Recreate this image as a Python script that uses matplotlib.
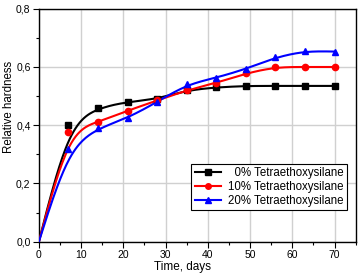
import numpy as np
import matplotlib.pyplot as plt
from matplotlib.ticker import MultipleLocator, FuncFormatter
from matplotlib.lines import Line2D

plt.rcParams['font.family'] = ['Liberation Sans', 'DejaVu Sans']

# measured data (origin point is drawn only as part of the curve)
days = [0, 7, 14, 21, 28, 35, 42, 49, 56, 63, 70]
teos_0 = [0.0, 0.40, 0.46, 0.48, 0.49, 0.52, 0.53, 0.535, 0.535, 0.535, 0.535]
teos_10 = [0.0, 0.378, 0.411, 0.45, 0.485, 0.52, 0.545, 0.578, 0.60, 0.60, 0.60]
teos_20 = [0.0, 0.32, 0.39, 0.424, 0.48, 0.54, 0.563, 0.593, 0.633, 0.655, 0.653]
labels = ['  0% Tetraethoxysilane', '10% Tetraethoxysilane', '20% Tetraethoxysilane']
colors = ['black', 'red', 'blue']
markers = ['s', 'o', '^']


def bspline(xs, ys, n=30):
    # uniform cubic B-spline, data points as control points,
    # reflected phantom points so the curve starts/ends on the end points
    P = np.column_stack([xs, ys]).astype(float)
    P = np.vstack([2 * P[0] - P[1], P, 2 * P[-1] - P[-2]])
    t = np.linspace(0, 1, n)
    b0 = (1 - t) ** 3 / 6
    b1 = (3 * t ** 3 - 6 * t ** 2 + 4) / 6
    b2 = (-3 * t ** 3 + 3 * t ** 2 + 3 * t + 1) / 6
    b3 = t ** 3 / 6
    segs = []
    for i in range(len(P) - 3):
        seg = (np.outer(b0, P[i]) + np.outer(b1, P[i + 1])
               + np.outer(b2, P[i + 2]) + np.outer(b3, P[i + 3]))
        segs.append(seg)
    out = np.vstack(segs)
    return out[:, 0], out[:, 1]


fig = plt.figure(figsize=(3.6, 2.74), dpi=100)
ax = fig.add_axes([0.108, 0.118, 0.880, 0.850])

handles = []
for ys, c, mk, lab in zip([teos_0, teos_10, teos_20], colors, markers, labels):
    cx, cy = bspline(days, ys)
    ax.plot(cx, cy, color=c, lw=1.5, zorder=3)
    ax.plot(days[1:], ys[1:], ls='none', marker=mk, color=c, ms=4.5, zorder=4)
    handles.append(Line2D([], [], color=c, lw=1.5, marker=mk, ms=4, label=lab))

ax.set_xlim(0, 75)
ax.set_ylim(0, 0.8)
ax.xaxis.set_major_locator(MultipleLocator(10))
ax.xaxis.set_minor_locator(MultipleLocator(5))
ax.yaxis.set_major_locator(MultipleLocator(0.2))
ax.yaxis.set_minor_locator(MultipleLocator(0.1))
ax.yaxis.set_major_formatter(FuncFormatter(lambda v, p: f'{v:.1f}'.replace('.', ',')))
ax.grid(True, which='major', color='#d0d0d0', lw=1.0, zorder=0)
ax.tick_params(which='both', direction='out', labelsize=7.5, width=0.8, pad=2)
ax.tick_params(which='major', length=4)
ax.tick_params(which='minor', length=2.5)
for s in ax.spines.values():
    s.set_linewidth(1.0)

ax.set_xlabel('Time, days', fontsize=8.5, va='top')
ax.set_ylabel('Relative hardness', fontsize=8.3)
ax.xaxis.set_label_coords(0.452, -0.085)
ax.yaxis.set_label_coords(-0.074, 0.578)

leg = ax.legend(handles=handles, loc='lower right', bbox_to_anchor=(0.973, 0.136),
                fontsize=8.3, frameon=True, fancybox=False, framealpha=1,
                edgecolor='black', handlelength=2.3, borderpad=0.3,
                labelspacing=0.15, handletextpad=0.6, borderaxespad=0)
leg.get_frame().set_linewidth(0.8)

plt.savefig('out.png', dpi=100)
